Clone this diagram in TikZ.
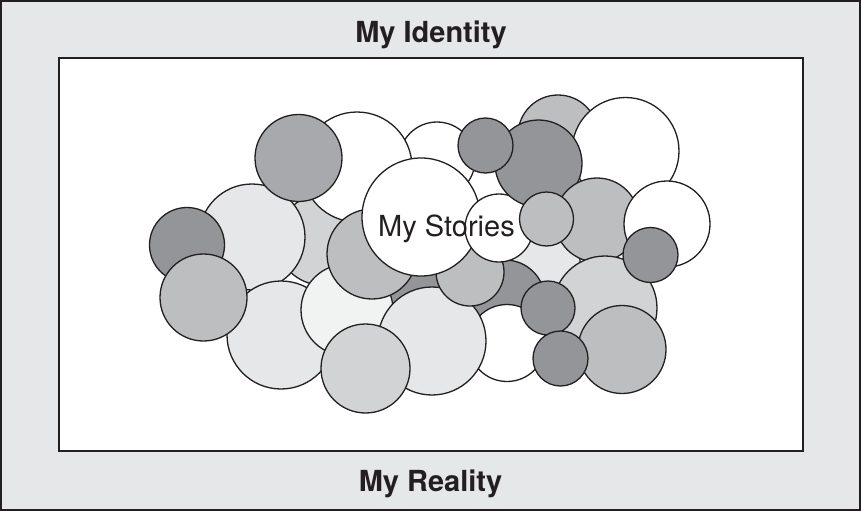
\documentclass[tikz,border=0pt]{standalone}
\usepackage{fontspec}
\setmainfont{TeX Gyre Heros}
\definecolor{frameink}{HTML}{231F20}
\definecolor{cD}{HTML}{939598}
\definecolor{cMD}{HTML}{A7A9AC}
\definecolor{cM}{HTML}{BCBEC0}
\definecolor{cL}{HTML}{D1D3D4}
\definecolor{cXL}{HTML}{E6E7E8}
\definecolor{cXXL}{HTML}{F1F2F2}
\tikzset{
  bubble/.style={draw=frameink, line width=1.3pt, fill=#1},
  boxline/.style={draw=frameink, line width=2pt},
  heading/.style={font=\fontsize{29}{31}\selectfont\bfseries, text=frameink, anchor=base, inner sep=0pt},
  storylabel/.style={font=\fontsize{29}{31}\selectfont, text=frameink, anchor=base, inner sep=0pt}
}
\newcommand{\bub}[4]{\path[bubble=#4] (#1,#2) circle[radius=#3pt];}
\begin{document}
\begin{tikzpicture}[x=1pt,y=-1pt]
\useasboundingbox (0,0) rectangle (861,511);
\path[boxline, fill=cXL] (1,1) rectangle (860,510);
\path[boxline, fill=white] (59,58) rectangle (803,451);
% back fillers
\bub{322}{240}{45}{cL}
\bub{420}{298}{33}{cD}
\bub{545}{262}{35}{cXL}
\bub{505}{300}{40}{cD}
% left cluster
\bub{252}{237}{53}{cXL}
\bub{187}{245}{37.5}{cD}
\bub{281}{335}{54}{cXL}
\bub{203.5}{297.5}{43.5}{cM}
\bub{437}{160}{38}{white}
\bub{357}{167}{55}{white}
\bub{298.5}{158}{43.5}{cMD}
\bub{347}{310}{46}{cXXL}
\bub{372}{254}{45}{cM}
\bub{507}{343}{38.5}{white}
\bub{432}{341}{54}{cXL}
\bub{365.5}{368.5}{44.5}{cL}
\bub{470}{272}{34}{cM}
% centre
\bub{421}{217}{59}{white}
\bub{499}{228}{34}{white}
% right cluster
\bub{558}{135}{40}{cM}
\bub{625.5}{151}{53.5}{white}
\bub{538.5}{163.5}{43.5}{cD}
\bub{485.5}{145.5}{27.5}{cD}
\bub{597}{220}{42}{cM}
\bub{667}{224}{43}{white}
\bub{605}{308}{52}{cL}
\bub{650.5}{255}{27.5}{cD}
\bub{548}{308}{27}{cD}
\bub{622}{349.5}{44}{cM}
\bub{560.5}{358.5}{27.5}{cD}
\bub{546.5}{219}{27}{cM}
% labels
\node[heading] (identity) at (431,42) {My Identity};
\node[heading] (reality) at (430.5,491) {My Reality};
\node[storylabel] (stories) at (446.5,236) {My Stories};
\end{tikzpicture}
\end{document}
